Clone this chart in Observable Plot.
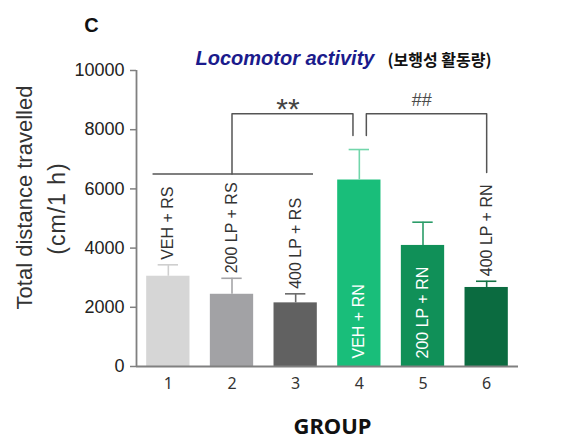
<!DOCTYPE html>
<html>
<head>
<meta charset="utf-8">
<script src="https://cdn.jsdelivr.net/npm/d3@7"></script>
<script src="https://cdn.jsdelivr.net/npm/@observablehq/plot@0.6"></script>
<style>
  html, body { margin: 0; padding: 0; background: #fff; }
  #chart { width: 583px; height: 444px; }
  svg { font-family: "Liberation Sans", Arial, sans-serif; }
</style>
</head>
<body>
<div id="chart"></div>
<script>
// ---- data ----
const groups = [1, 2, 3, 4, 5, 6];
const groupLabels = ["VEH + RS", "200 LP + RS", "400 LP + RS", "VEH + RN", "200 LP + RN", "400 LP + RN"];
const means = [3050, 2440, 2150, 6300, 4090, 2670];
const sems = [385, 540, 305, 1030, 785, 210];
const labelInside = [false, false, false, true, true, false];
const barColors = ["#d6d6d6", "#a2a2a5", "#616161", "#19be7a", "#109058", "#0b6b40"];
const errColors = ["#cfcfcf", "#a5a5a8", "#6a6a6a", "#72d6ab", "#2a9c68", "#167346"];
const yTicks = [0, 2000, 4000, 6000, 8000, 10000];

// significance annotations (data units)
const groupLine = {x1: 0.76, x2: 3.28, y: 6500};
const brackets = [
  {x1: 2.0, x2: 3.9, top: 8540, leftEnd: 6500, rightEnd: 7800, label: "**", mid: 2.88},
  {x1: 4.11, x2: 6.0, top: 8540, leftEnd: 7800, rightEnd: 6550, label: "##", mid: 4.98}
];

const data = groups.map((g, i) => ({
  g, label: groupLabels[i], mean: means[i], top: means[i] + sems[i],
  inside: labelInside[i], fill: barColors[i], err: errColors[i]
}));

const bracketPts = brackets.flatMap((b, k) => [
  {k, x: b.x1, y: b.leftEnd}, {k, x: b.x1, y: b.top},
  {k, x: b.x2, y: b.top}, {k, x: b.x2, y: b.rightEnd}
]);

const halfBar = 0.34, halfCap = 0.16;
const gray = "#555";

const chart = Plot.plot({
  width: 583, height: 444,
  marginLeft: 136, marginRight: 65, marginTop: 70, marginBottom: 78,
  x: {domain: [0.5, 6.5], axis: null},
  y: {domain: [0, 10000], axis: null},
  color: {type: "identity"},
  marks: [
    // y axis
    Plot.axisY({ticks: yTicks, tickSize: 6, tickPadding: 6, label: null, fontSize: 18,
      color: "#222", stroke: "#808080", strokeWidth: 1.5, tickFormat: d => String(d)}),
    Plot.ruleX([0.5], {y1: 0, y2: 10000, stroke: "#808080", strokeWidth: 1.8}),
    // bars
    Plot.rectY(data, {x1: d => d.g - halfBar, x2: d => d.g + halfBar, y1: 0, y2: "mean", fill: "fill"}),
    // error bars
    Plot.ruleX(data, {x: "g", y1: "mean", y2: "top", stroke: "err", strokeWidth: 1.6}),
    Plot.ruleY(data, {y: "top", x1: d => d.g - halfCap, x2: d => d.g + halfCap, stroke: "err", strokeWidth: 1.6}),
    // baseline
    Plot.ruleY([0], {x1: 0.5, x2: 6.5, stroke: "#808080", strokeWidth: 1.8}),
    // x tick labels
    Plot.axisX({ticks: groups, tickSize: 0, tickPadding: 11, label: null, fontSize: 16,
      fontFamily: "Noto Sans", color: "#333", tickFormat: d => String(d)}),
    Plot.text(["GROUP"], {x: 3.5, y: 0, dx: 5, dy: 60, text: d => d, fontSize: 22, fontWeight: "bold",
      fontFamily: "Noto Sans", fill: "#111"}),
    // group labels
    Plot.text(data.filter(d => !d.inside), {x: "g", y: "top", text: "label", rotate: -90, textAnchor: "start",
      dy: -5, fontSize: 16, fill: "#333"}),
    Plot.text(data.filter(d => d.inside), {x: "g", y: 0, text: "label", rotate: -90, textAnchor: "start",
      dy: -8, fontSize: 16, fill: "#ffffff"}),
    // significance
    Plot.ruleY([groupLine], {y: "y", x1: "x1", x2: "x2", stroke: gray, strokeWidth: 1.5}),
    Plot.line(bracketPts, {x: "x", y: "y", z: "k", stroke: gray, strokeWidth: 1.5, curve: "linear"}),
    Plot.text([brackets[0]], {x: "mid", y: "top", text: "label", dy: -4, fontSize: 30, fill: "#444"}),
    Plot.text([brackets[1]], {x: "mid", y: "top", text: "label", dy: -13, fontSize: 18, fill: "#4a4a4a"}),
    // y title
    Plot.text(["Total distance travelled"], {frameAnchor: "left", text: d => d, rotate: -90, textAnchor: "middle",
      lineAnchor: "middle", dx: -112, dy: -21, fontSize: 22, fill: "#333"}),
    Plot.text(["(cm/1 h)"], {frameAnchor: "left", text: d => d, rotate: -90, textAnchor: "middle",
      lineAnchor: "middle", dx: -79, dy: -10, fontSize: 23, fill: "#333"}),
    // titles
    Plot.text(["C"], {frameAnchor: "top-left", text: d => d, textAnchor: "middle", lineAnchor: "middle",
      dx: -45, dy: -45, fontSize: 20, fontWeight: "bold", fill: "#111"}),
    Plot.text(["Locomotor activity"], {frameAnchor: "top-left", text: d => d, textAnchor: "start", lineAnchor: "middle",
      dx: 59, dy: -11.5, fontSize: 20, fontWeight: "bold", fontStyle: "italic", fill: "#1b1b8c"}),
    Plot.text(["(보행성 활동량)"], {frameAnchor: "top-left", text: d => d, textAnchor: "start", lineAnchor: "middle",
      dx: 251, dy: -9.5, fontSize: 16, fontWeight: "bold", fontFamily: "Noto Sans CJK KR", fill: "#111"})
  ]
});
d3.select(chart).selectAll("text").filter(function() { return this.textContent === "(cm/1 h)"; })
  .attr("letter-spacing", "1px");
document.getElementById("chart").appendChild(chart);
</script>
</body>
</html>
